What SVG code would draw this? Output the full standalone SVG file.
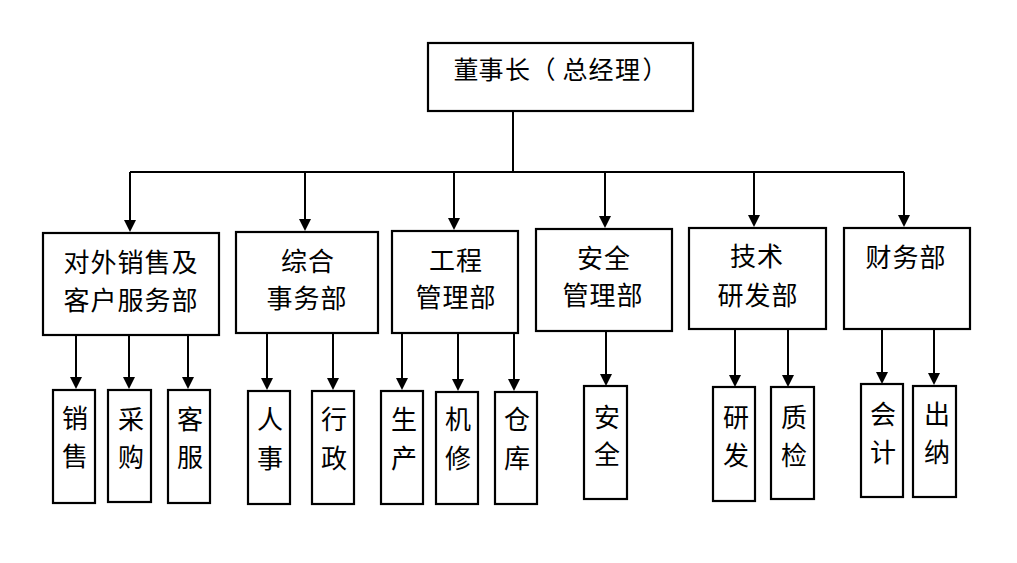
<svg xmlns="http://www.w3.org/2000/svg" width="1017" height="563" viewBox="0 0 1017 563">
<style>
.box{fill:#fff;stroke:#000;stroke-width:2.2}
.ln{stroke:#000;stroke-width:2;fill:none}
.arr{stroke:#000;stroke-width:2;fill:none;marker-end:url(#ah)}
text{font-family:"Liberation Serif","Noto Sans CJK SC",serif;font-size:26px;fill:#000;text-anchor:middle}
.t{font-size:25px}
.d{letter-spacing:1px}
</style>
<defs>
<marker id="ah" markerUnits="userSpaceOnUse" markerWidth="12" markerHeight="12" refX="8" refY="6" orient="auto">
<path d="M0,0 L12,6 L0,12 z" fill="#000"/>
</marker>
</defs>
<rect width="1017" height="563" fill="#fff"/>
<g id="connectors">
<path class="ln" d="M513,112 V172 M130,172 H904"/>
<path class="arr" d="M130,172 V228"/>
<path class="arr" d="M305,172 V227"/>
<path class="arr" d="M454,172 V226"/>
<path class="arr" d="M605,172 V224"/>
<path class="arr" d="M754,172 V223"/>
<path class="arr" d="M904,172 V223"/>
<path class="arr" d="M76,335 V385"/>
<path class="arr" d="M129,335 V385"/>
<path class="arr" d="M188,335 V385"/>
<path class="arr" d="M267,333 V386"/>
<path class="arr" d="M333,333 V386"/>
<path class="arr" d="M402,333 V386"/>
<path class="arr" d="M458,333 V387"/>
<path class="arr" d="M514,333 V387"/>
<path class="arr" d="M606,331 V382"/>
<path class="arr" d="M735,329 V383"/>
<path class="arr" d="M788,329 V383"/>
<path class="arr" d="M882,329 V380"/>
<path class="arr" d="M934,329 V381"/>
</g>
<g id="n-top"><rect class="box" x="428" y="43" width="265" height="68"/><text class="t" x="466 491 517.5 543 575 601 627.5 655" y="79">董事长（总经理）</text></g>
<g id="n-sales-dept"><rect class="box" x="43" y="233" width="176" height="102"/><text class="d" x="131" y="272">对外销售及</text><text class="d" x="131" y="310">客户服务部</text></g>
<g id="n-admin-dept"><rect class="box" x="236" y="232" width="142" height="101"/><text class="d" x="308" y="271">综合</text><text class="d" x="307" y="308">事务部</text></g>
<g id="n-eng-dept"><rect class="box" x="392" y="231" width="126" height="102"/><text class="d" x="456" y="270">工程</text><text class="d" x="456" y="307">管理部</text></g>
<g id="n-safety-dept"><rect class="box" x="536" y="229" width="136" height="102"/><text class="d" x="604" y="268">安全</text><text class="d" x="603" y="305">管理部</text></g>
<g id="n-tech-dept"><rect class="box" x="689" y="228" width="137" height="101"/><text class="d" x="757" y="266">技术</text><text class="d" x="758" y="305">研发部</text></g>
<g id="n-fin-dept"><rect class="box" x="844" y="228" width="126" height="101"/><text class="d" x="906" y="267">财务部</text></g>
<g id="n-xs"><rect class="box" x="53" y="390" width="42" height="113"/><text x="75" y="428">销</text><text x="75" y="466">售</text></g>
<g id="n-cg"><rect class="box" x="108" y="390" width="43" height="112"/><text x="131" y="429">采</text><text x="131" y="467">购</text></g>
<g id="n-kf"><rect class="box" x="168" y="390" width="42" height="113"/><text x="190" y="429">客</text><text x="190" y="467">服</text></g>
<g id="n-rs"><rect class="box" x="248" y="391" width="42" height="113"/><text x="270" y="429">人</text><text x="270" y="468">事</text></g>
<g id="n-xz"><rect class="box" x="312" y="391" width="42" height="113"/><text x="334" y="429">行</text><text x="334" y="468">政</text></g>
<g id="n-sc"><rect class="box" x="381" y="391" width="42" height="113"/><text x="404" y="429">生</text><text x="404" y="468">产</text></g>
<g id="n-jx"><rect class="box" x="436" y="392" width="42" height="112"/><text x="458" y="429">机</text><text x="458" y="468">修</text></g>
<g id="n-ck"><rect class="box" x="495" y="392" width="42" height="112"/><text x="517" y="429">仓</text><text x="517" y="468">库</text></g>
<g id="n-aq"><rect class="box" x="584" y="386" width="43" height="113"/><text x="607" y="427">安</text><text x="607" y="464">全</text></g>
<g id="n-yf"><rect class="box" x="713" y="387" width="42" height="114"/><text x="736" y="427">研</text><text x="736" y="465">发</text></g>
<g id="n-zj"><rect class="box" x="771" y="387" width="43" height="112"/><text x="794" y="427">质</text><text x="794" y="465">检</text></g>
<g id="n-kj"><rect class="box" x="861" y="384" width="42" height="113"/><text x="883" y="424">会</text><text x="883" y="462">计</text></g>
<g id="n-cn"><rect class="box" x="913" y="386" width="43" height="111"/><text x="937" y="424">出</text><text x="937" y="462">纳</text></g>
</svg>
